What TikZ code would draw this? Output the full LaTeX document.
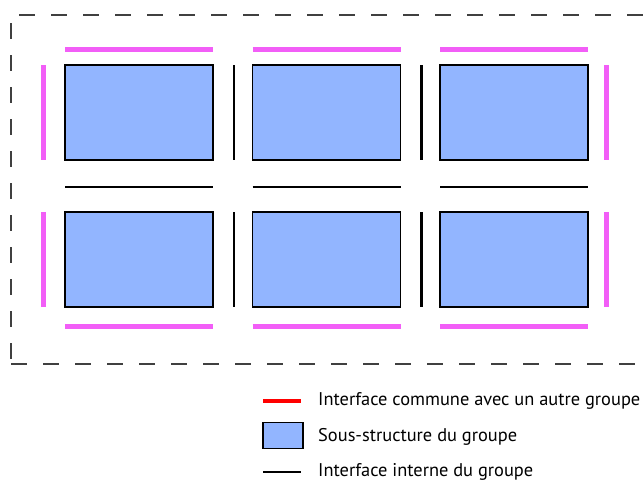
\documentclass[tikz,border=0pt]{standalone}
\usepackage{fontspec}
\setmainfont{PT Sans}
\usetikzlibrary{positioning}
\definecolor{grpblue}{HTML}{92B5FF}
\definecolor{grppink}{HTML}{F25EF7}
\definecolor{grpred}{HTML}{FF0000}
\definecolor{grpgray}{HTML}{404040}
\begin{document}
\begin{tikzpicture}[x=1pt, y=-1pt,
  node distance=52pt and 39.5pt,
  sous/.style={rectangle, draw=black, fill=grpblue, line width=1.3pt, inner sep=0pt, outer sep=0pt,
               minimum width=148pt, minimum height=95pt},
  ext/.style={grppink, line width=5pt},
  int/.style={black, line width=2.8pt},
  cadre/.style={grpgray, line width=1.3pt, dash pattern=on 16pt off 16pt},
  leg/.style={anchor=base west, inner sep=0pt, font=\fontsize{18.4}{20}\selectfont}]
\useasboundingbox (0,0) rectangle (643,480);
% cadre du groupe
\draw[cadre, dash phase=24pt] (11,15) -- (643,15);
\draw[cadre, dash phase=24pt] (11,15) -- (11,364);
\draw[cadre] (11,364) -- (643,364);
% sous-structures
\node[sous] (b11) at (139,112.5) {};
\node[sous, right=of b11] (b12) {};
\node[sous, right=of b12] (b13) {};
\node[sous, below=of b11] (b21) {};
\node[sous, right=of b21] (b22) {};
\node[sous, right=of b22] (b23) {};
% interfaces externes
\draw[ext] ([yshift=16pt]b11.north west) -- ([yshift=16pt]b11.north east);
\draw[ext] ([yshift=16pt]b12.north west) -- ([yshift=16pt]b12.north east);
\draw[ext] ([yshift=16pt]b13.north west) -- ([yshift=16pt]b13.north east);
\draw[ext] ([yshift=-19pt]b21.south west) -- ([yshift=-19pt]b21.south east);
\draw[ext] ([yshift=-19pt]b22.south west) -- ([yshift=-19pt]b22.south east);
\draw[ext] ([yshift=-19pt]b23.south west) -- ([yshift=-19pt]b23.south east);
\draw[ext] ([xshift=-22pt]b11.north west) -- ([xshift=-22pt]b11.south west);
\draw[ext] ([xshift=-22pt]b21.north west) -- ([xshift=-22pt]b21.south west);
\draw[ext] ([xshift=18pt]b13.north east) -- ([xshift=18pt]b13.south east);
\draw[ext] ([xshift=18pt]b23.north east) -- ([xshift=18pt]b23.south east);
% interfaces internes
\draw[int] ([yshift=-27pt]b11.south west) -- ([yshift=-27pt]b11.south east);
\draw[int] ([yshift=-27pt]b12.south west) -- ([yshift=-27pt]b12.south east);
\draw[int] ([yshift=-27pt]b13.south west) -- ([yshift=-27pt]b13.south east);
\draw[int] ([xshift=21pt]b11.north east) -- ([xshift=21pt]b11.south east);
\draw[int] ([xshift=21pt]b12.north east) -- ([xshift=21pt]b12.south east);
\draw[int] ([xshift=21pt]b21.north east) -- ([xshift=21pt]b21.south east);
\draw[int] ([xshift=21pt]b22.north east) -- ([xshift=21pt]b22.south east);
% legende
\coordinate (l1a) at (263,401); \coordinate (l1b) at (301,401);
\coordinate (l3a) at (263,472); \coordinate (l3b) at (301,472);
\draw[grpred, line width=4.5pt] (l1a) -- (l1b);
\node[sous, minimum width=40pt, minimum height=25.5pt] (legbox) at (283,435.5) {};
\draw[int] (l3a) -- (l3b);
\node[leg] (leg1) at (318,405.5) {Interface commune avec un autre groupe};
\node[leg] (leg2) at (318,441) {Sous-structure du groupe};
\node[leg] (leg3) at (318,476) {Interface interne du groupe};
\end{tikzpicture}
\end{document}
